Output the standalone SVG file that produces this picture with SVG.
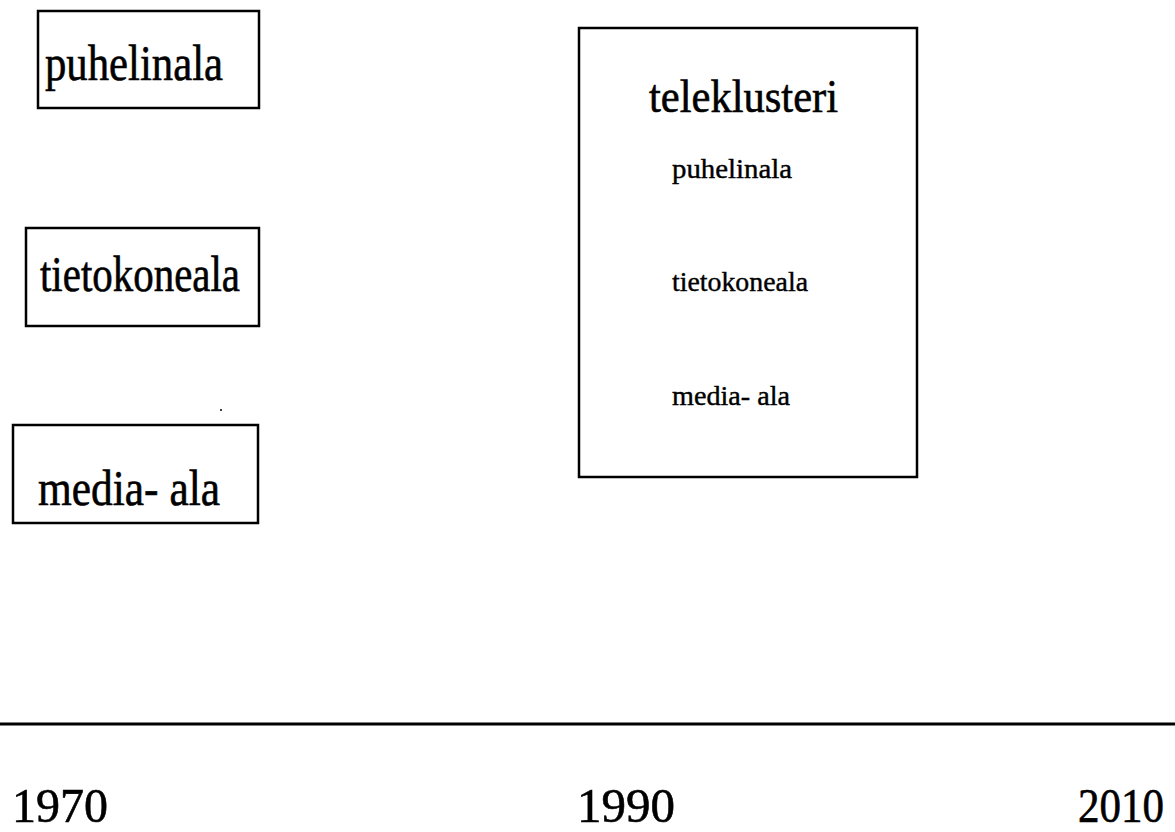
<svg xmlns="http://www.w3.org/2000/svg" width="1175" height="832" viewBox="0 0 1175 832">
  <style>
    .box { fill: #fff; stroke: #000; stroke-width: 2.5; }
    .lbl { font-family: "Liberation Serif", "Times New Roman", serif; fill: #000; stroke: #000; stroke-width: 0.6; }
    .big { font-size: 50px; }
    .mid { font-size: 46px; }
    .small { font-size: 27px; stroke-width: 0.4; }
    .year { font-size: 49px; }
  </style>
  <rect width="1175" height="832" fill="#fff"/>

  <g id="node-puhelinala">
    <rect class="box" x="38" y="11" width="221" height="97"/>
    <text class="lbl big" x="45" y="80" textLength="178" lengthAdjust="spacingAndGlyphs">puhelinala</text>
  </g>

  <g id="node-tietokoneala">
    <rect class="box" x="26" y="228" width="233" height="98"/>
    <text class="lbl big" x="40" y="291" textLength="200" lengthAdjust="spacingAndGlyphs">tietokoneala</text>
  </g>

  <g id="node-media-ala">
    <rect class="box" x="13" y="425" width="245" height="98"/>
    <text class="lbl big" x="38" y="505" textLength="182" lengthAdjust="spacingAndGlyphs">media- ala</text>
  </g>

  <g id="node-teleklusteri">
    <rect class="box" x="579" y="28" width="338" height="449"/>
    <text class="lbl mid" x="649" y="112" textLength="189" lengthAdjust="spacingAndGlyphs">teleklusteri</text>
    <text class="lbl small" x="672" y="178" textLength="120" lengthAdjust="spacingAndGlyphs">puhelinala</text>
    <text class="lbl small" x="672" y="291" textLength="136" lengthAdjust="spacingAndGlyphs">tietokoneala</text>
    <text class="lbl small" x="672" y="405" textLength="118" lengthAdjust="spacingAndGlyphs">media- ala</text>
  </g>

  <!-- stray mark above the media box -->
  <circle cx="221" cy="410" r="1" fill="#000"/>

  <g id="connectors">
    <line x1="0" y1="724" x2="1175" y2="724" stroke="#000" stroke-width="3"/>
  </g>

  <g id="axis-labels">
    <text class="lbl year" x="12" y="822" textLength="96" lengthAdjust="spacingAndGlyphs">1970</text>
    <text class="lbl year" x="577" y="822" textLength="98" lengthAdjust="spacingAndGlyphs">1990</text>
    <text class="lbl year" x="1078" y="822" textLength="86" lengthAdjust="spacingAndGlyphs">2010</text>
  </g>
</svg>
